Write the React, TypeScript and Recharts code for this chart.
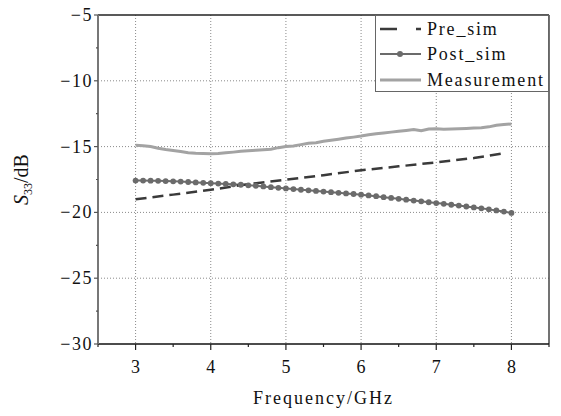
import React from 'react';
import { LineChart, Line, XAxis, YAxis, CartesianGrid, Legend, ReferenceLine } from 'recharts';

// frequency points (GHz) for the sampled curves
const freqs = [
  3.0, 3.1, 3.2, 3.3, 3.4, 3.5, 3.6, 3.7, 3.8, 3.9,
  4.0, 4.1, 4.2, 4.3, 4.4, 4.5, 4.6, 4.7, 4.8, 4.9,
  5.0, 5.1, 5.2, 5.3, 5.4, 5.5, 5.6, 5.7, 5.8, 5.9,
  6.0, 6.1, 6.2, 6.3, 6.4, 6.5, 6.6, 6.7, 6.8, 6.9,
  7.0, 7.1, 7.2, 7.3, 7.4, 7.5, 7.6, 7.7, 7.8, 7.9, 8.0,
];

const postSim = [
  -17.58, -17.58, -17.59, -17.6, -17.62, -17.64, -17.66, -17.69, -17.72, -17.75,
  -17.78, -17.81, -17.84, -17.87, -17.9, -17.94, -17.98, -18.03, -18.08, -18.13,
  -18.18, -18.23, -18.28, -18.32, -18.37, -18.42, -18.46, -18.51, -18.56, -18.6,
  -18.65, -18.71, -18.77, -18.84, -18.9, -18.97, -19.03, -19.1, -19.16, -19.23,
  -19.29, -19.35, -19.42, -19.48, -19.55, -19.62, -19.69, -19.77, -19.85, -19.94, -20.04,
];

const measurement = [
  -14.9, -14.93, -15.0, -15.12, -15.22, -15.3, -15.38, -15.46, -15.5, -15.52,
  -15.55, -15.53, -15.47, -15.42, -15.36, -15.31, -15.27, -15.24, -15.2, -15.08,
  -15.0, -14.95, -14.85, -14.74, -14.7, -14.6, -14.52, -14.44, -14.35, -14.28,
  -14.2, -14.1, -14.02, -13.96, -13.9, -13.84, -13.77, -13.7, -13.8, -13.66,
  -13.65, -13.68, -13.66, -13.64, -13.62, -13.59, -13.56, -13.5, -13.38, -13.32, -13.28,
];

const preFreqs = [3.0, 3.5, 4.0, 4.5, 5.0, 5.5, 6.0, 6.5, 7.0, 7.5, 7.9];
const preSim = [-19.0, -18.65, -18.28, -17.85, -17.52, -17.17, -16.8, -16.5, -16.2, -15.87, -15.5];

const xTicks = [2.5, 3, 3.5, 4, 4.5, 5, 5.5, 6, 6.5, 7, 7.5, 8, 8.5];
const yTicks = [-30, -27.5, -25, -22.5, -20, -17.5, -15, -12.5, -10, -7.5, -5];
const xGrid = [3, 4, 5, 6, 7, 8];
const yGrid = [-25, -20, -15, -10];

const fineData = freqs.map((f, i) => ({ f, post: postSim[i], meas: measurement[i] }));
const preData = preFreqs.map((f, i) => ({ f, pre: preSim[i] }));

const FONT = '"Liberation Serif", "Times New Roman", serif';

const XTick = (props: any) => {
  const { x, y, payload } = props;
  const major = Number.isInteger(payload.value);
  return (
    <g>
      <line x1={x} y1={y} x2={x} y2={y + (major ? 6 : 3)} stroke="#222" strokeWidth={1.2} />
      {major && (
        <text x={x + 1} y={y + 29} textAnchor="middle" fontSize={18} letterSpacing={2} fill="#111" fontFamily={FONT}>
          {payload.value}
        </text>
      )}
    </g>
  );
};

const YTick = (props: any) => {
  const { x, y, payload } = props;
  const major = payload.value % 5 === 0;
  return (
    <g>
      <line x1={x} y1={y} x2={x - (major ? 4 : 2)} y2={y} stroke="#555" strokeWidth={1.2} />
      {major && (
        <text x={x - 5} y={y + 6} textAnchor="end" fontSize={18} letterSpacing={1.5} fill="#111" fontFamily={FONT}>
          {'\u2212' + Math.abs(payload.value)}
        </text>
      )}
    </g>
  );
};

const XLabel = (props: any) => {
  const vb = props.viewBox;
  return (
    <text x={vb.x + vb.width / 2} y={vb.y + 60} textAnchor="middle" fontSize={18} letterSpacing={2} fill="#111" fontFamily={FONT}>
      Frequency/GHz
    </text>
  );
};

const YLabel = (props: any) => {
  const vb = props.viewBox;
  const cx = vb.x + 20;
  const cy = vb.y + vb.height / 2;
  return (
    <text x={cx} y={cy} transform={`rotate(-90, ${cx}, ${cy})`} textAnchor="middle" fontSize={20} fill="#111" fontFamily={FONT}>
      <tspan fontStyle="italic">S</tspan>
      <tspan fontSize={12} dy={4}>33</tspan>
      <tspan dy={-4}>/dB</tspan>
    </text>
  );
};

const legendItems = [
  { name: 'Pre_sim', kind: 'dash' },
  { name: 'Post_sim', kind: 'dot' },
  { name: 'Measurement', kind: 'thick' },
];

const LegendBox = () => (
  <div
    style={{
      background: '#fff',
      border: '1px solid #666',
      width: 174,
      height: 77,
      boxSizing: 'border-box',
      fontFamily: FONT,
      fontSize: 18,
      letterSpacing: 1.8,
      color: '#111',
    }}
  >
    {legendItems.map((item) => (
      <div key={item.name} style={{ display: 'flex', alignItems: 'center', height: 25.5 }}>
        <svg width={50} height={12} style={{ flexShrink: 0 }}>
          {item.kind === 'dash' && (
            <line x1={4} y1={6} x2={45} y2={6} stroke="#3a3a3a" strokeWidth={2.5} strokeDasharray="17 19 5" />
          )}
          {item.kind === 'dot' && (
            <g>
              <line x1={4} y1={6} x2={45} y2={6} stroke="#6b6b6b" strokeWidth={2} />
              <circle cx={24} cy={6} r={3} fill="#6b6b6b" />
            </g>
          )}
          {item.kind === 'thick' && <line x1={4} y1={6} x2={45} y2={6} stroke="#a3a3a3" strokeWidth={3} />}
        </svg>
        <span style={{ marginLeft: 1, lineHeight: '20px' }}>{item.name}</span>
      </div>
    ))}
  </div>
);

export default function App() {
  return (
    <div style={{ position: 'absolute', left: 0, top: 0, width: 561, height: 416, background: '#fff' }}>
      <LineChart width={561} height={416} margin={{ top: 15, right: 12, bottom: 12, left: 8 }}>
        <CartesianGrid
          stroke="#8a8a8a"
          strokeDasharray="1 2"
          verticalValues={xGrid}
          horizontalValues={yGrid}
        />
        <XAxis
          dataKey="f"
          type="number"
          domain={[2.5, 8.5]}
          ticks={xTicks}
          interval={0}
          height={60}
          tickSize={0}
          tickMargin={0}
          tickLine={false}
          tick={<XTick />}
          axisLine={{ stroke: '#111', strokeWidth: 1.5 }}
          label={{ content: <XLabel /> }}
          allowDataOverflow
        />
        <YAxis
          type="number"
          domain={[-30, -5]}
          ticks={yTicks}
          interval={0}
          width={90}
          tickSize={0}
          tickMargin={0}
          tickLine={false}
          tick={<YTick />}
          axisLine={{ stroke: '#777', strokeWidth: 2 }}
          label={{ content: <YLabel /> }}
          allowDataOverflow
        />
        <ReferenceLine y={-5} stroke="#222" strokeWidth={1.5} />
        <ReferenceLine x={8.5} stroke="#444" strokeWidth={1.5} />
        <Line data={fineData} dataKey="meas" stroke="#a3a3a3" strokeWidth={3} dot={false} isAnimationActive={false} />
        <Line
          data={fineData}
          dataKey="post"
          stroke="#6b6b6b"
          strokeWidth={2}
          dot={{ r: 2.9, fill: '#6b6b6b', stroke: 'none' }}
          isAnimationActive={false}
        />
        <Line
          data={preData}
          dataKey="pre"
          stroke="#3a3a3a"
          strokeWidth={2.5}
          strokeDasharray="11 6"
          dot={false}
          isAnimationActive={false}
        />
        <Legend
          layout="vertical"
          align="center"
          verticalAlign="middle"
          content={<LegendBox />}
          wrapperStyle={{ top: 15, left: 375, width: 174, margin: 0 }}
        />
      </LineChart>
    </div>
  );
}
